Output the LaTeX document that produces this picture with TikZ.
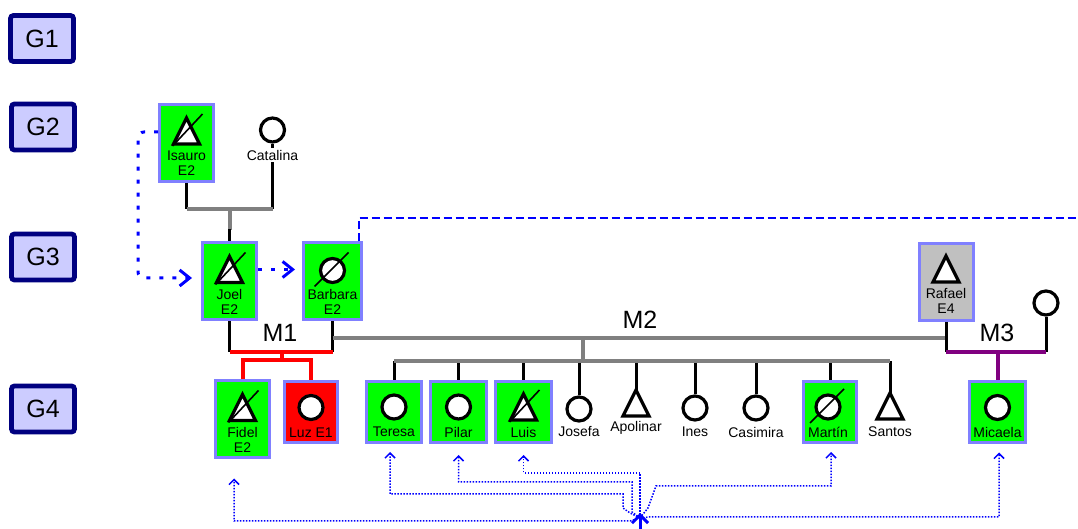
\documentclass[tikz,border=0pt]{standalone}
\usepackage{fontspec}
\setmainfont{Liberation Sans}
\usetikzlibrary{arrows.meta}
\usetikzlibrary{positioning}
\usetikzlibrary{calc}
\definecolor{verde}{HTML}{00FF00}
\definecolor{borde}{HTML}{8080FF}
\definecolor{lila}{HTML}{CCCCFF}
\definecolor{marino}{HTML}{000080}
\definecolor{gris}{HTML}{808080}
\definecolor{grisclaro}{HTML}{C0C0C0}
\definecolor{morado}{HTML}{800080}
\newcommand{\varon}[1]{\draw[simbolo, shift={#1}] (0,-13) -- (13,13) -- (-13,13) -- cycle;}
\newcommand{\mujer}[1]{\draw[simbolo, shift={#1}] (0,0) circle[radius=12];}
\newcommand{\cruzT}[1]{\draw[tachado, shift={#1}] (-14,15) -- (16,-17);}
\newcommand{\cruzC}[1]{\draw[tachado, shift={#1}] (-18,16) -- (16,-18);}

\begin{document}
\begin{tikzpicture}[x=0.5pt, y=-0.5pt,
	gen/.style={draw=marino, fill=lila, line width=2.4pt, rounded corners=1.5pt, minimum width=31.5pt, minimum height=23pt, inner sep=0pt, font=\fontsize{12.5}{14}\selectfont},
	caja/.style={draw=borde, fill=verde, line width=1.5pt, minimum width=27pt, minimum height=38.5pt, inner sep=0pt},
	caja1/.style={caja, minimum height=30.5pt},
	texto/.style={font=\fontsize{7}{7.5}\selectfont, align=center, inner sep=0pt},
	circulo/.style={circle, draw, fill=white, line width=1.6pt, minimum size=12pt, inner sep=0pt},
	simbolo/.style={line width=1.6pt, fill=white},
	tachado/.style={line width=0.8pt},
	linea/.style={line width=1.5pt},
	barra/.style={line width=2pt, gris},
	union/.style={font=\fontsize{12.5}{14}\selectfont, inner sep=0pt},
	punteado/.style={blue, line width=1.5pt, dash pattern=on 2pt off 4.5pt, -{Straight Barb[length=5pt,width=8pt]}},
	rayado/.style={blue, line width=1.3pt, dash pattern=on 4pt off 2pt},
	hijo/.style={blue, line width=0.75pt, dash pattern=on 0.75pt off 0.75pt, -{Straight Barb[length=2.5pt,width=5pt]}},
	centro-flecha/.style={blue, line width=1.5pt, -{Straight Barb[length=4pt,width=8pt]}}]
	\useasboundingbox (0,0) rectangle (1078,529);
	%generations
	\node[gen] (g1) at (42,38.5) {G1};
	\node[gen] (g2) at (43,127) {G2};
	\node[gen] (g3) at (43,257) {G3};
	\node[gen] (g4) at (43,409) {G4};
	%junction points
	\coordinate (u0) at (229.5,209);
	\coordinate (m1) at (282,352);
	\coordinate (h1) at (282,360);
	\coordinate (m2) at (583,338);
	\coordinate (hb) at (583,361);
	\coordinate (m3) at (998,352);
	%G2
	\node[caja] (isauro) at (186.5,143) {};
	\varon{($(isauro.north)+(0,28)$)}
	\cruzT{($(isauro.north)+(0,28)$)}
	\node[texto] (isauro-t) at ($(isauro.north)+(0,60)$) {Isauro\\E2};
	\node[circulo] (catalina) at (272.5,130) {};
	\draw[linea] (isauro.south) -- (isauro.south |- u0);
	\draw[linea] (catalina.south) -- (catalina.south |- u0);
	\node[texto, fill=white, inner sep=1pt] (catalina-t) at (272.5,155) {Catalina};
	\draw[barra] (isauro.south |- u0) -- (catalina.south |- u0);
	%G3
	\node[caja] (joel) at (229.5,281.5) {};
	\varon{($(joel.north)+(0,28)$)}
	\cruzT{($(joel.north)+(0,28)$)}
	\node[texto] (joel-t) at ($(joel.north)+(0,60)$) {Joel\\E2};
	\node[caja, minimum width=29pt] (barbara) at (332.5,281.5) {};
	\mujer{($(barbara.north)+(0,29)$)}
	\cruzC{($(barbara.north)+(0,29)$)}
	\node[texto] (barbara-t) at ($(barbara.north)+(0,60)$) {Barbara\\E2};
	\node[caja, fill=grisclaro] (rafael) at (946,282) {};
	\varon{($(rafael.north)+(0,27)$)}
	\node[texto] (rafael-t) at ($(rafael.north)+(0,59)$) {Rafael\\E4};
	\node[circulo] (pareja) at (1046,303) {};
	\draw[barra] (u0) -- ++(0,21);
	\draw[linea] ($(joel.north)+(0,-12)$) -- (joel.north);
	%G4
	\node[caja] (fidel) at (242.5,419.5) {};
	\varon{($(fidel.north)+(0,28)$)}
	\cruzT{($(fidel.north)+(0,28)$)}
	\node[texto] (fidel-t) at ($(fidel.north)+(0,60)$) {Fidel\\E2};
	\node[caja1, fill=red, minimum width=26.5pt] (luz) at (311,412.5) {};
	\mujer{($(luz.north)+(0,27)$)}
	\node[texto] (luz-t) at ($(luz.north)+(0,52)$) {Luz E1};
	\node[caja1, minimum width=27.5pt] (teresa) at (394,412) {};
	\mujer{($(teresa.north)+(0,27)$)}
	\node[texto] (teresa-t) at ($(teresa.north)+(0,52)$) {Teresa};
	\node[caja1, minimum width=28pt] (pilar) at (458.5,412) {};
	\mujer{($(pilar.north)+(0,27)$)}
	\node[texto] (pilar-t) at ($(pilar.north)+(0,52)$) {Pilar};
	\node[caja1, minimum width=28pt] (luis) at (523.5,412) {};
	\varon{($(luis.north)+(0,27)$)}
	\cruzT{($(luis.north)+(0,27)$)}
	\node[texto] (luis-t) at ($(luis.north)+(0,52)$) {Luis};
	\node[circulo] (josefa) at (579,409) {};
	\node[texto] (josefa-t) at (579,432) {Josefa};
	\coordinate (apolinar) at (636,390);
	\varon{(636,403)}
	\node[texto] (apolinar-t) at (636,428) {Apolinar};
	\node[circulo] (ines) at (695,408) {};
	\node[texto] (ines-t) at (695,432) {Ines};
	\node[circulo] (casimira) at (756,408) {};
	\node[texto] (casimira-t) at (756,432) {Casimira};
	\node[caja1, minimum width=26.5pt] (martin) at (830,412) {};
	\mujer{($(martin.north)+(-2,27)$)}
	\cruzC{($(martin.north)+(-2,27)$)}
	\node[texto] (martin-t) at ($(martin.north)+(-2,52)$) {Martín};
	\coordinate (santos) at (890,393);
	\varon{(890,406)}
	\node[texto] (santos-t) at (890,432) {Santos};
	\node[caja1, minimum width=28pt] (micaela) at (997.5,412.5) {};
	\mujer{($(micaela.north)+(0,27)$)}
	\node[texto] (micaela-t) at ($(micaela.north)+(0,52)$) {Micaela};
	%M1
	\draw[linea] (joel.south) -- (joel.south |- m1);
	\draw[linea] (barbara.south) -- (barbara.south |- m1);
	\draw[barra] (barbara.south |- m2) -- (rafael.south |- m2);
	\draw[line width=2pt, red] (joel.south |- m1) -- (barbara.south |- m1);
	\draw[line width=2pt, red] (m1) -- (h1);
	\draw[line width=2pt, red] (fidel.north) |- (h1) -| (luz.north);
	\node[union] (m1-t) at (280,333) {M1};
	%M2
	\draw[barra] (m2) -- (hb);
	\draw[linea] (teresa.north) -- (teresa.north |- hb);
	\draw[linea] (pilar.north) -- (pilar.north |- hb);
	\draw[linea] (luis.north) -- (luis.north |- hb);
	\draw[linea] (josefa.north) -- (josefa.north |- hb);
	\draw[linea] (apolinar) -- (apolinar |- hb);
	\draw[linea] (ines.north) -- (ines.north |- hb);
	\draw[linea] (casimira.north) -- (casimira.north |- hb);
	\draw[linea] (martin.north) -- (martin.north |- hb);
	\draw[linea] (santos) -- (santos |- hb);
	\draw[barra] (teresa.north |- hb) -- (santos |- hb);
	\node[union] (m2-t) at (640,320) {M2};
	%M3
	\draw[linea] (rafael.south) -- (rafael.south |- m3);
	\draw[linea] (pareja.south) -- (pareja.south |- m3);
	\draw[line width=2pt, morado] (rafael.south |- m3) -- (pareja.south |- m3);
	\draw[line width=2pt, morado] (m3) -- (m3 |- micaela.north);
	\node[union] (m3-t) at (997,333) {M3};
	%links
	\coordinate (borde) at (1078,218);
	\draw[punteado, rounded corners=3pt] ($(isauro.west)+(0,-11)$) -| (138,278) -- ($(joel.west)+(-9,-3.5)$);
	\draw[punteado] ($(joel.east)+(0,-12)$) -- ($(barbara.west)+(-7,-12)$);
	\draw[rayado] ($(barbara.north)+(26.5,0)$) |- (borde);
	%bottom links
	\coordinate (centro) at (640,518);
	\coordinate (centro-punta) at (640,513);
	\coordinate (centro-pie) at (640,529);
	\draw[hijo] (centro) -- (630,521) -| ($(fidel.south)+(-8.5,19)$);
	\draw[hijo] (centro) -- (630,513) -- (623,508) -- (623,494) -| ($(teresa.south)+(-4,8)$);
	\draw[hijo] (centro) -- (632,512) -- (632,482) -| ($(pilar.south)+(0,11)$);
	\draw[hijo] (centro) -- (640,473) -| ($(luis.south)+(0,11)$);
	\draw[hijo] (centro) -- (648,508) -- (656,486) -| ($(martin.south)+(1,8)$);
	\draw[hijo] (centro) -- (649,517) -| ($(micaela.south)+(1.5,8)$);
	\draw[centro-flecha] (centro-pie) -- (centro-punta);
\end{tikzpicture}
\end{document}
